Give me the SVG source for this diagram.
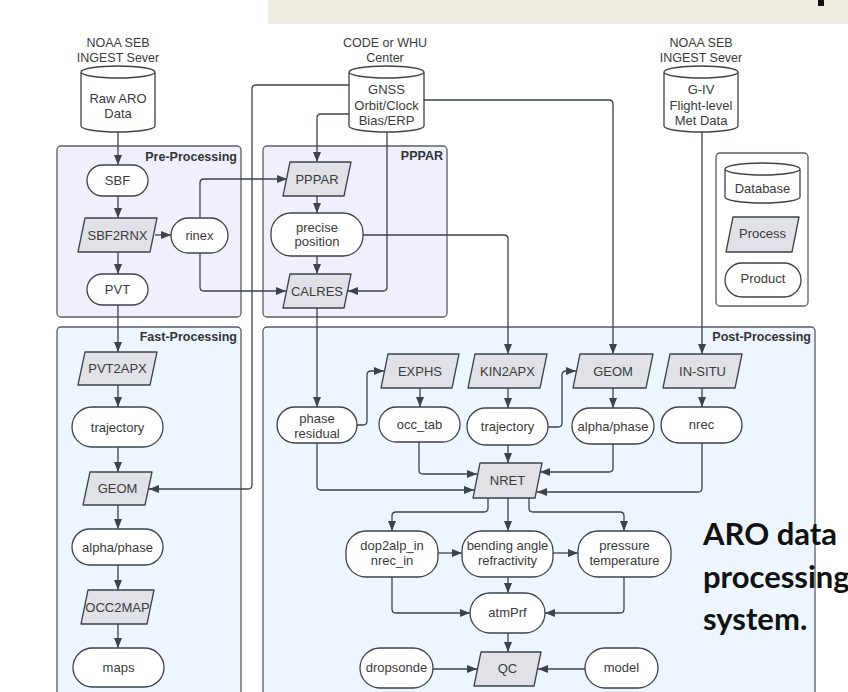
<svg xmlns="http://www.w3.org/2000/svg" width="848" height="692" viewBox="0 0 848 692">
<defs>
<marker id="ah" viewBox="0 0 10 8" refX="10" refY="4" markerWidth="10" markerHeight="8" markerUnits="userSpaceOnUse" orient="auto"><path d="M0,0 L10,4 L0,8 z" fill="#3d424d"/></marker>
<style>
.grpA{fill:#f0f0fd;stroke:#5a5d66;stroke-width:1.3}
.grpB{fill:#edf5fe;stroke:#5a5d66;stroke-width:1.3}
.gt{font-family:"Liberation Sans",Arial,sans-serif;font-size:12.5px;font-weight:bold;fill:#333;text-anchor:end}
.prod{fill:#fff;stroke:#3d424d;stroke-width:1.3}
.proc{fill:#e0e2e7;stroke:#3d424d;stroke-width:1.3;stroke-linejoin:round}
.db{fill:#fff;stroke:#3d424d;stroke-width:1.3}
.t{font-family:"Liberation Sans",Arial,sans-serif;font-size:13px;fill:#3a3a3a;text-anchor:middle}
.lab{font-family:"Liberation Sans",Arial,sans-serif;font-size:12.5px;fill:#3a3a3a;text-anchor:middle}
.c{fill:none;stroke:#3d424d;stroke-width:1.3;stroke-linejoin:round;marker-end:url(#ah)}
.big{font-family:Lato,"Open Sans",sans-serif;font-size:31px;font-weight:bold;fill:#111}
</style>
</defs>
<rect width="848" height="692" fill="#fff"/>
<rect x="268" y="0" width="580" height="24" fill="#eeebe0"/>
<rect x="818" y="0" width="6" height="6" fill="#111"/>

<g id="groups">
<rect class="grpA" x="57" y="146" width="184" height="171" rx="4"/>
<text class="gt" x="237" y="161">Pre-Processing</text>
<rect class="grpA" x="263" y="146" width="184" height="171" rx="4"/>
<text class="gt" x="443" y="160">PPPAR</text>
<rect class="grpB" x="57" y="327" width="184" height="380" rx="4"/>
<text class="gt" x="237" y="341">Fast-Processing</text>
<rect class="grpB" x="263" y="327" width="552" height="380" rx="4"/>
<text class="gt" x="811" y="341">Post-Processing</text>
</g>

<g id="labels">
<text class="lab" x="118" y="46.5">NOAA SEB</text>
<text class="lab" x="118" y="61.5">INGEST Sever</text>
<text class="lab" x="385" y="46.5">CODE or WHU</text>
<text class="lab" x="385" y="61.5">Center</text>
<text class="lab" x="701" y="46.5">NOAA SEB</text>
<text class="lab" x="701" y="61.5">INGEST Sever</text>
</g>

<g id="connectors">
<path class="c" d="M118,132 V165"/>
<path class="c" d="M118,196 V218"/>
<path class="c" d="M155,235 H171"/>
<path class="c" d="M118,252 V274"/>
<path class="c" d="M118,305 V352"/>
<path class="c" d="M118,385 V407"/>
<path class="c" d="M118,447 V472"/>
<path class="c" d="M118,505 V529"/>
<path class="c" d="M118,565 V590"/>
<path class="c" d="M118,624 V648"/>
<path class="c" d="M200,218 V183 Q200,179 204,179 H287"/>
<path class="c" d="M200,253 V287 Q200,291 204,291 H286"/>
<path class="c" d="M349,85 H256 Q252,85 252,89 V485 Q252,489 248,489 H149"/>
<path class="c" d="M349,114 H321 Q317,114 317,118 V162"/>
<path class="c" d="M387,131 V287 Q387,291 383,291 H348"/>
<path class="c" d="M424,100 H609 Q613,100 613,104 V354"/>
<path class="c" d="M702,132 V354"/>
<path class="c" d="M317,196 V213"/>
<path class="c" d="M317,256 V274"/>
<path class="c" d="M363,235 H504 Q508,235 508,239 V354"/>
<path class="c" d="M317,308 V407"/>
<path class="c" d="M357,425 H363 Q367,425 367,421 V375 Q367,371 371,371 H384"/>
<path class="c" d="M420,388 V407"/>
<path class="c" d="M508,388 V408"/>
<path class="c" d="M548,427 H558 Q562,427 562,423 V375 Q562,371 566,371 H576"/>
<path class="c" d="M613,388 V408"/>
<path class="c" d="M702,388 V407"/>
<path class="c" d="M508,445 V463"/>
<path class="c" d="M419,442 V470 Q419,474 423,474 H477"/>
<path class="c" d="M317,443 V486 Q317,490 321,490 H474"/>
<path class="c" d="M613,444 V468 Q613,472 609,472 H540"/>
<path class="c" d="M702,443 V488 Q702,492 698,492 H537"/>
<path class="c" d="M488,498 V508 Q488,512 484,512 H396 Q392,512 392,516 V531"/>
<path class="c" d="M508,498 V531"/>
<path class="c" d="M529,498 V508 Q529,512 533,512 H620 Q624,512 624,516 V531"/>
<path class="c" d="M438,553 H462"/>
<path class="c" d="M553,553 H578"/>
<path class="c" d="M508,577 V593"/>
<path class="c" d="M392,577 V609 Q392,613 396,613 H470"/>
<path class="c" d="M624,577 V609 Q624,613 620,613 H545"/>
<path class="c" d="M508,633 V652"/>
<path class="c" d="M433,669 H477"/>
<path class="c" d="M585,669 H538"/>
</g>

<g id="raw-aro"><path class="db" d="M81,72 A37,6 0 0 1 155,72 V126 A37,6 0 0 1 81,126 Z M81,72 A37,6 0 0 0 155,72"/><text class="t" x="118" y="102.5">Raw ARO</text><text class="t" x="118" y="117.5">Data</text></g>
<g id="gnss"><path class="db" d="M349,72 A37.5,6 0 0 1 424,72 V126 A37.5,6 0 0 1 349,126 Z M349,72 A37.5,6 0 0 0 424,72"/><text class="t" x="386.5" y="93.5">GNSS</text><text class="t" x="386.5" y="109.5">Orbit/Clock</text><text class="t" x="386.5" y="124.5">Bias/ERP</text></g>
<g id="giv"><path class="db" d="M664,72 A37,6 0 0 1 738,72 V126 A37,6 0 0 1 664,126 Z M664,72 A37,6 0 0 0 738,72"/><text class="t" x="701" y="93.5">G-IV</text><text class="t" x="701" y="109.5">Flight-level</text><text class="t" x="701" y="124.5">Met Data</text></g>

<g id="sbf"><rect class="prod" x="87" y="165" width="61" height="31" rx="15.5"/><text class="t" x="117.5" y="185">SBF</text></g>
<g id="sbf2rnx"><path class="proc" d="M85,218 H157 L150,252 H78 Z"/><text class="t" x="117.5" y="239.5">SBF2RNX</text></g>
<g id="rinex"><rect class="prod" x="171" y="218" width="57" height="35" rx="17.5"/><text class="t" x="199.5" y="239.5">rinex</text></g>
<g id="pvt"><rect class="prod" x="87" y="274" width="61" height="31" rx="15.5"/><text class="t" x="117.5" y="294">PVT</text></g>

<g id="pppar"><path class="proc" d="M290,162 H351 L344,196 H283 Z"/><text class="t" x="317" y="183.5">PPPAR</text></g>
<g id="precise"><rect class="prod" x="271" y="213" width="92" height="43" rx="20"/><text class="t" x="317" y="231.5">precise</text><text class="t" x="317" y="245.5">position</text></g>
<g id="calres"><path class="proc" d="M290,274 H351 L344,308 H283 Z"/><text class="t" x="317" y="295.5">CALRES</text></g>

<g id="pvt2apx"><path class="proc" d="M85,352 H157 L150,385 H78 Z"/><text class="t" x="117.5" y="373">PVT2APX</text></g>
<g id="traj-fast"><rect class="prod" x="72" y="407" width="91" height="40" rx="20"/><text class="t" x="117.5" y="431.5">trajectory</text></g>
<g id="geom-fast"><path class="proc" d="M90,472 H152 L145,505 H83 Z"/><text class="t" x="117.5" y="493">GEOM</text></g>
<g id="alpha-fast"><rect class="prod" x="72" y="529" width="91" height="36" rx="18"/><text class="t" x="117.5" y="551.5">alpha/phase</text></g>
<g id="occ2map"><path class="proc" d="M88,590 H154 L147,624 H81 Z"/><text class="t" x="117.5" y="611.5">OCC2MAP</text></g>
<g id="maps"><rect class="prod" x="73" y="648" width="91" height="39" rx="19.5"/><text class="t" x="118.5" y="672">maps</text></g>

<g id="phase-residual"><rect class="prod" x="277" y="407" width="80" height="36" rx="18"/><text class="t" x="317" y="422.5">phase</text><text class="t" x="317" y="437.5">residual</text></g>
<g id="exphs"><path class="proc" d="M388,354 H459 L452,388 H381 Z"/><text class="t" x="420" y="375.5">EXPHS</text></g>
<g id="occ-tab"><rect class="prod" x="379" y="407" width="81" height="35" rx="17.5"/><text class="t" x="419.5" y="428.5">occ_tab</text></g>
<g id="kin2apx"><path class="proc" d="M475,354 H547 L540,388 H468 Z"/><text class="t" x="507.5" y="375.5">KIN2APX</text></g>
<g id="traj-post"><rect class="prod" x="467" y="408" width="81" height="37" rx="18.5"/><text class="t" x="507.5" y="430.5">trajectory</text></g>
<g id="geom-post"><path class="proc" d="M580,354 H653 L646,388 H573 Z"/><text class="t" x="613" y="375.5">GEOM</text></g>
<g id="alpha-post"><rect class="prod" x="572" y="408" width="82" height="36" rx="18"/><text class="t" x="613" y="430.5">alpha/phase</text></g>
<g id="in-situ"><path class="proc" d="M670,354 H742 L735,388 H663 Z"/><text class="t" x="702.5" y="375.5">IN-SITU</text></g>
<g id="nrec"><rect class="prod" x="661" y="407" width="81" height="36" rx="18"/><text class="t" x="701.5" y="428.5">nrec</text></g>
<g id="nret"><path class="proc" d="M480,463 H542 L535,498 H473 Z"/><text class="t" x="507.5" y="484.5">NRET</text></g>
<g id="dop2alp"><rect class="prod" x="346" y="531" width="92" height="46" rx="20"/><text class="t" x="392" y="549.5">dop2alp_in</text><text class="t" x="392" y="564.5">nrec_in</text></g>
<g id="bending"><rect class="prod" x="462" y="531" width="91" height="46" rx="20"/><text class="t" x="507.5" y="549.5">bending angle</text><text class="t" x="507.5" y="564.5">refractivity</text></g>
<g id="pressure"><rect class="prod" x="578" y="531" width="93" height="46" rx="20"/><text class="t" x="624.5" y="549.5">pressure</text><text class="t" x="624.5" y="564.5">temperature</text></g>
<g id="atmprf"><rect class="prod" x="470" y="593" width="75" height="40" rx="20"/><text class="t" x="507.5" y="616.5">atmPrf</text></g>
<g id="qc"><path class="proc" d="M481,652 H541 L534,686 H474 Z"/><text class="t" x="507.5" y="672.5">QC</text></g>
<g id="dropsonde"><rect class="prod" x="360" y="648" width="73" height="40" rx="20"/><text class="t" x="396.5" y="671.5">dropsonde</text></g>
<g id="model"><rect class="prod" x="585" y="648" width="73" height="40" rx="20"/><text class="t" x="621.5" y="671.5">model</text></g>

<g id="legend">
<rect x="716" y="153" width="92" height="153" rx="4" fill="#fff" stroke="#5a5d66" stroke-width="1.3"/>
<path class="db" d="M725,169 A37.5,6 0 0 1 800,169 V197 A37.5,6 0 0 1 725,197 Z M725,169 A37.5,6 0 0 0 800,169"/>
<text class="t" x="762.5" y="192.5">Database</text>
<path class="proc" d="M733,217 H799 L792,252 H726 Z"/>
<text class="t" x="762.5" y="237.5">Process</text>
<rect class="prod" x="725" y="263" width="76" height="34" rx="17"/>
<text class="t" x="763" y="282.5">Product</text>
</g>

<g id="caption">
<text class="big" x="703" y="545">ARO data</text>
<text class="big" x="703" y="588">processing</text>
<text class="big" x="703" y="630">system.</text>
</g>
</svg>
